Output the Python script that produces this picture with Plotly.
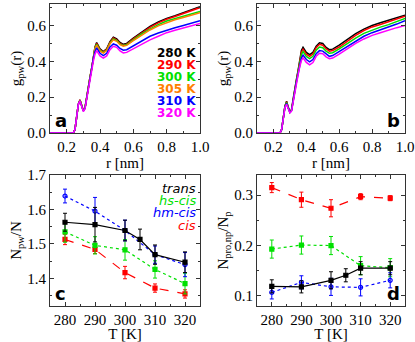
import plotly.graph_objects as go

# ---------------- data ----------------
r_nm = [0.10, 0.24, 0.25, 0.26, 0.27, 0.28, 0.29, 0.30, 0.31, 0.32, 0.33, 0.34, 0.35, 0.36, 0.37,
        0.38, 0.40, 0.42, 0.44, 0.46, 0.48, 0.50, 0.52, 0.54, 0.56, 0.60, 0.65, 0.70, 0.75,
        0.80, 0.85, 0.90, 0.95, 1.00]

temps_a = ["280 K", "290 K", "300 K", "305 K", "310 K", "320 K"]
colors_a = ["#000000", "#ff0000", "#00e000", "#ff7f00", "#0000ff", "#ff00ff"]

g_a_280 = [0, 0, 0.02, 0.09, 0.16, 0.185, 0.15, 0.125, 0.14, 0.20, 0.27, 0.31, 0.36, 0.43, 0.48,
           0.505, 0.47, 0.455, 0.47, 0.51, 0.535, 0.525, 0.505, 0.495, 0.50, 0.53, 0.565, 0.595, 0.62,
           0.64, 0.655, 0.672, 0.69, 0.705]
g_a_290 = [0, 0, 0.02, 0.09, 0.16, 0.185, 0.15, 0.125, 0.14, 0.20, 0.27, 0.31, 0.36, 0.43, 0.478,
           0.50, 0.466, 0.452, 0.467, 0.506, 0.530, 0.520, 0.500, 0.490, 0.495, 0.525, 0.56, 0.59, 0.615,
           0.635, 0.65, 0.667, 0.685, 0.70]
g_a_300 = [0, 0, 0.02, 0.09, 0.16, 0.183, 0.15, 0.124, 0.14, 0.20, 0.27, 0.31, 0.36, 0.428, 0.474,
           0.495, 0.462, 0.449, 0.463, 0.502, 0.525, 0.516, 0.496, 0.488, 0.492, 0.52, 0.553, 0.58, 0.605,
           0.625, 0.638, 0.652, 0.665, 0.678]
g_a_305 = [0, 0, 0.02, 0.09, 0.16, 0.183, 0.15, 0.124, 0.14, 0.20, 0.27, 0.31, 0.36, 0.425, 0.47,
           0.49, 0.458, 0.446, 0.46, 0.498, 0.520, 0.512, 0.493, 0.485, 0.489, 0.515, 0.547, 0.575, 0.598,
           0.617, 0.632, 0.645, 0.659, 0.672]
g_a_310 = [0, 0, 0.02, 0.09, 0.16, 0.18, 0.147, 0.122, 0.138, 0.195, 0.26, 0.30, 0.35, 0.415, 0.455,
           0.475, 0.445, 0.432, 0.445, 0.48, 0.497, 0.49, 0.472, 0.462, 0.465, 0.487, 0.515, 0.54, 0.558,
           0.574, 0.587, 0.60, 0.613, 0.626]
g_a_320 = [0, 0, 0.02, 0.09, 0.16, 0.178, 0.145, 0.12, 0.135, 0.19, 0.255, 0.295, 0.345, 0.40, 0.44,
           0.46, 0.43, 0.418, 0.43, 0.465, 0.484, 0.478, 0.458, 0.447, 0.45, 0.47, 0.497, 0.52, 0.54,
           0.56, 0.573, 0.585, 0.598, 0.611]
g_a = [g_a_280, g_a_290, g_a_300, g_a_305, g_a_310, g_a_320]

colors_b = ["#000000", "#ff0000", "#00e000", "#0000ff", "#ff00ff"]
g_b_1 = [0, 0, 0.02, 0.08, 0.15, 0.178, 0.14, 0.12, 0.13, 0.19, 0.26, 0.30, 0.35, 0.41, 0.46,
         0.478, 0.45, 0.437, 0.45, 0.485, 0.503, 0.50, 0.478, 0.465, 0.468, 0.49, 0.525, 0.555, 0.58,
         0.60, 0.615, 0.628, 0.642, 0.657]
g_b_2 = [0, 0, 0.02, 0.08, 0.15, 0.175, 0.138, 0.118, 0.128, 0.188, 0.255, 0.295, 0.345, 0.405, 0.45,
         0.468, 0.44, 0.428, 0.441, 0.476, 0.495, 0.49, 0.47, 0.457, 0.46, 0.48, 0.515, 0.545, 0.572,
         0.592, 0.606, 0.62, 0.636, 0.652]
g_b_3 = [0, 0, 0.02, 0.08, 0.148, 0.17, 0.135, 0.116, 0.126, 0.185, 0.25, 0.29, 0.34, 0.395, 0.437,
         0.455, 0.427, 0.415, 0.428, 0.462, 0.48, 0.476, 0.457, 0.445, 0.448, 0.47, 0.502, 0.53, 0.556,
         0.575, 0.591, 0.605, 0.622, 0.64]
g_b_4 = [0, 0, 0.02, 0.08, 0.145, 0.165, 0.132, 0.114, 0.124, 0.18, 0.245, 0.285, 0.33, 0.38, 0.418,
         0.435, 0.41, 0.397, 0.41, 0.443, 0.46, 0.457, 0.44, 0.428, 0.432, 0.455, 0.487, 0.515, 0.54,
         0.56, 0.576, 0.59, 0.608, 0.627]
g_b_5 = [0, 0, 0.02, 0.08, 0.142, 0.16, 0.13, 0.112, 0.122, 0.175, 0.24, 0.28, 0.325, 0.37, 0.405,
         0.42, 0.394, 0.38, 0.393, 0.428, 0.445, 0.442, 0.425, 0.415, 0.418, 0.44, 0.472, 0.50, 0.525,
         0.545, 0.56, 0.575, 0.588, 0.60]
g_b = [g_b_1, g_b_2, g_b_3, g_b_4, g_b_5]

T_trans = [280, 290, 300, 305, 310, 320]
T_other = [280, 290, 300, 310, 320]

npw_trans = [1.563, 1.556, 1.539, 1.513, 1.469, 1.447]
npw_trans_err = [0.026, 0.05, 0.03, 0.03, 0.028, 0.03]
npw_hs = [1.535, 1.496, 1.483, 1.426, 1.385]
npw_hs_err = [0.03, 0.025, 0.03, 0.025, 0.03]
npw_hm = [1.639, 1.595, 1.539, 1.469, 1.440]
npw_hm_err = [0.02, 0.04, 0.03, 0.025, 0.035]
npw_cis = [1.513, 1.484, 1.417, 1.372, 1.355]
npw_cis_err = [0.015, 0.012, 0.018, 0.012, 0.012]

npro_trans = [0.119, 0.118, 0.131, 0.141, 0.155, 0.155]
npro_trans_err = [0.013, 0.012, 0.017, 0.013, 0.013, 0.013]
npro_hs = [0.193, 0.201, 0.200, 0.160, 0.156]
npro_hs_err = [0.018, 0.018, 0.018, 0.018, 0.018]
npro_hm = [0.107, 0.127, 0.118, 0.117, 0.131]
npro_hm_err = [0.013, 0.013, 0.017, 0.017, 0.015]
npro_cis = [0.315, 0.291, 0.274, 0.297, 0.294]
npro_cis_err = [0.010, 0.015, 0.017, 0.006, 0.005]

series_names = ["trans", "hs-cis", "hm-cis", "cis"]
series_colors = ["#000000", "#00e000", "#0000ff", "#ff0000"]

# ---------------- figure ----------------
fig = go.Figure()

for g, c in zip(g_a, colors_a):
    fig.add_trace(go.Scatter(x=r_nm, y=g, mode="lines", line=dict(color=c, width=1.5),
                             xaxis="x", yaxis="y", showlegend=False))
for g, c in zip(g_b, colors_b):
    fig.add_trace(go.Scatter(x=r_nm, y=g, mode="lines", line=dict(color=c, width=1.5),
                             xaxis="x2", yaxis="y2", showlegend=False))


def add_err(x, y, e, color, dash, symbol, xa, ya):
    fig.add_trace(go.Scatter(
        x=x, y=y, mode="lines+markers",
        line=dict(color=color, width=1.2, dash=dash),
        marker=dict(color=color, size=4, symbol=symbol, line=dict(color=color, width=1.2)),
        error_y=dict(type="data", array=e, color=color, thickness=1, width=2),
        xaxis=xa, yaxis=ya, showlegend=False))


styles = {0: ("solid", "square"), 1: ("dot", "square"), 2: ("dot", "circle-open"), 3: ("dash", "square")}
for xa, ya, data in [("x3", "y3", [(T_trans, npw_trans, npw_trans_err), (T_other, npw_hs, npw_hs_err),
                                   (T_other, npw_hm, npw_hm_err), (T_other, npw_cis, npw_cis_err)]),
                     ("x4", "y4", [(T_trans, npro_trans, npro_trans_err), (T_other, npro_hs, npro_hs_err),
                                   (T_other, npro_hm, npro_hm_err), (T_other, npro_cis, npro_cis_err)])]:
    for i in [3, 1, 2, 0]:
        x, y, e = data[i]
        add_err(x, y, e, series_colors[i], styles[i][0], styles[i][1], xa, ya)

tickfont = dict(family="Liberation Serif", size=15, color="black")
titlefont = dict(family="Liberation Serif", size=15, color="black")


def axis(domain, rng, dtick, minor_dtick, anchor, title, fmt):
    return dict(domain=domain, range=rng, dtick=dtick, tick0=0, anchor=anchor, automargin=False,
                tickformat=fmt,
                showline=True, linecolor="#333333", linewidth=1, mirror="allticks",
                ticks="inside", ticklen=4, tickcolor="#333333", tickwidth=1,
                showgrid=False, zeroline=False, tickfont=tickfont,
                minor=dict(dtick=minor_dtick, tick0=0, ticks="inside", ticklen=2,
                           tickcolor="#333333", showgrid=False),
                title=dict(text=title, font=titlefont, standoff=2))


xa_dom_l = [50 / 415, 200 / 415]
xa_dom_r = [257 / 415, 405 / 415]
ya_dom_t = [1 - 133 / 342, 1 - 4 / 342]
ya_dom_b = [1 - 306 / 342, 1 - 175 / 342]

fig.update_layout(
    width=415, height=342, margin=dict(l=0, r=0, t=0, b=0),
    paper_bgcolor="white", plot_bgcolor="white",
    xaxis=axis(xa_dom_l, [0.1, 1.0], 0.2, 0.1, "y", "r [nm]", ".1f"),
    yaxis=axis(ya_dom_t, [0, 0.72], 0.2, 0.1, "x", "g<sub>pw</sub>(r)", ".1f"),
    xaxis2=axis(xa_dom_r, [0.1, 1.0], 0.2, 0.1, "y2", "r [nm]", ".1f"),
    yaxis2=axis(ya_dom_t, [0, 0.72], 0.2, 0.1, "x2", "g<sub>pw</sub>(r)", ".1f"),
    xaxis3=axis(xa_dom_l, [275, 325], 10, 5, "y3", "T [K]", "d"),
    yaxis3=axis(ya_dom_b, [1.32, 1.70], 0.1, 0.05, "x3", "N<sub>pw</sub>/N", ".1f"),
    xaxis4=axis(xa_dom_r, [275, 325], 10, 5, "y4", "T [K]", "d"),
    yaxis4=axis(ya_dom_b, [0.08, 0.34], 0.1, 0.05, "x4", "N<sub>pro,np</sub>/N<sub>p</sub>", ".1f"),
)

ann = []
# legend panel a
for i, (t, c) in enumerate(zip(temps_a, colors_a)):
    ann.append(dict(text="<b>%s</b>" % t, x=0.985, y=0.62 - i * 0.093, xref="x domain", yref="y domain",
                    xanchor="right", yanchor="middle", showarrow=False,
                    font=dict(family="DejaVu Sans", size=12, color=c)))
# legend panel c
for i, (n, c) in enumerate(zip(series_names, series_colors)):
    ann.append(dict(text="<i>%s</i>" % n, x=0.985, y=0.9 - i * 0.095, xref="x3 domain", yref="y3 domain",
                    xanchor="right", yanchor="middle", showarrow=False,
                    font=dict(family="DejaVu Sans", size=13, color=c)))
# panel letters
for lab, xr, yr, xx, xanc in [("a", "x domain", "y domain", 0.02, "left"),
                               ("b", "x2 domain", "y2 domain", 0.98, "right"),
                               ("c", "x3 domain", "y3 domain", 0.02, "left"),
                               ("d", "x4 domain", "y4 domain", 0.98, "right")]:
    ann.append(dict(text="<b>%s</b>" % lab, x=xx, y=0.0, xref=xr, yref=yr, xanchor=xanc, yanchor="bottom",
                    showarrow=False, font=dict(family="DejaVu Sans", size=18, color="black")))
fig.update_layout(annotations=ann)

fig.write_html("out.html", config={"displayModeBar": False},
               post_script="document.body.style.margin='0';document.body.style.overflow='hidden';")
